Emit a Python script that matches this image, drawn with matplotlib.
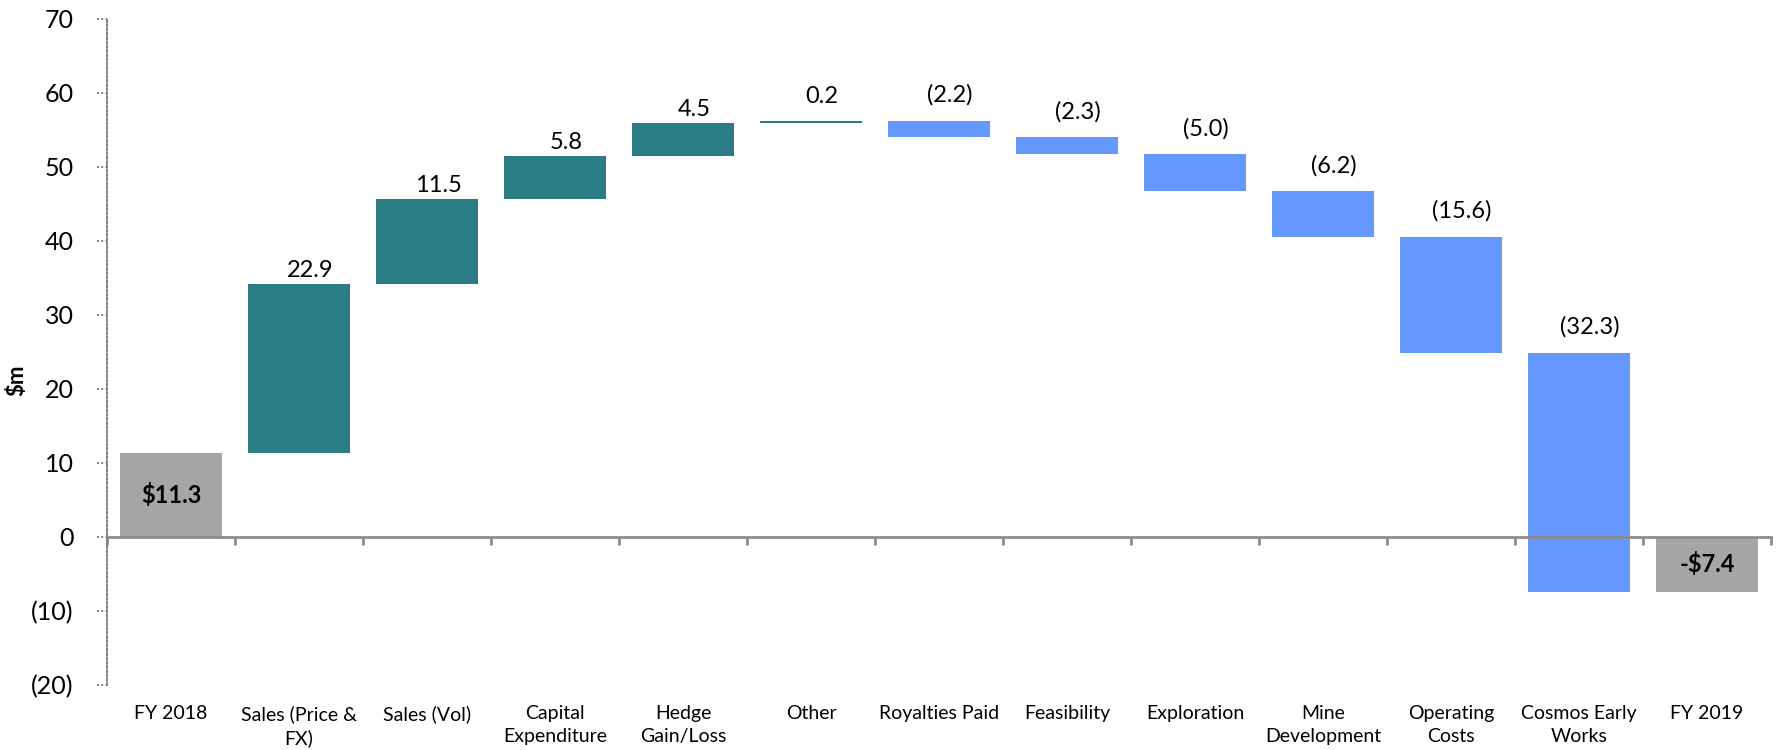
import matplotlib
matplotlib.use("Agg")
import matplotlib.pyplot as plt
import matplotlib.transforms as mtransforms
import numpy as np

plt.rcParams['font.family'] = ['Lato', 'DejaVu Sans']

categories = ["FY 2018", "Sales (Price &\nFX)", "Sales (Vol)", "Capital\nExpenditure",
              "Hedge\nGain/Loss", "Other", "Royalties Paid", "Feasibility", "Exploration",
              "Mine\nDevelopment", "Operating\nCosts", "Cosmos Early\nWorks", "FY 2019"]
start_value = 11.3
changes = [22.9, 11.5, 5.8, 4.5, 0.2, -2.2, -2.3, -5.0, -6.2, -15.6, -32.3]
end_value = -7.4
yticks = [-20, -10, 0, 10, 20, 30, 40, 50, 60, 70]

TEAL = "#2B7C85"
BLUE = "#6699FF"
GRAY = "#A6A6A6"

fig = plt.figure(figsize=(17.77, 7.5), dpi=100)
ax = fig.add_axes([107/1777, 1-685/750, (1771-107)/1777, (685-19)/750])

x = np.arange(len(categories))
# waterfall bottoms/heights
bottoms = [0]
heights = [start_value]
colors = [GRAY]
running = start_value
for c in changes:
    if c >= 0:
        bottoms.append(running)
        heights.append(c)
        colors.append(TEAL)
    else:
        bottoms.append(running + c)
        heights.append(-c)
        colors.append(BLUE)
    running += c
bottoms.append(min(0, end_value))
heights.append(abs(end_value))
colors.append(GRAY)

ax.bar(x, heights, bottom=bottoms, width=0.8, color=colors, zorder=2)

# labels
for i, c in enumerate(changes, start=1):
    top = bottoms[i] + heights[i]
    if c >= 0:
        txt = f"{c:.1f}"
        dy = 2 if c > 1 else 10
    else:
        txt = f"({-c:.1f})"
        dy = 11
    ax.annotate(txt, (x[i], top), xytext=(8, dy), textcoords="offset points",
                ha="center", va="bottom", fontsize=17, color="black")

ax.text(x[0], start_value/2, f"${start_value:.1f}", ha="center", va="center",
        fontsize=17, fontweight="bold")
ax.text(x[-1], end_value/2, f"-${abs(end_value):.1f}", ha="center", va="center",
        fontsize=17, fontweight="bold")

ax.set_xlim(-0.5, len(categories)-0.5)
ax.set_ylim(-20, 70)

# spines
for s in ["top", "right"]:
    ax.spines[s].set_visible(False)
ax.spines["left"].set_linestyle((0, (1, 1.2)))
ax.spines["left"].set_color("#7F7F7F")
ax.spines["left"].set_linewidth(1.4)
ax.spines["bottom"].set_position(("data", 0))
ax.spines["bottom"].set_color("#8C8C8C")
ax.spines["bottom"].set_linewidth(2)
ax.spines["bottom"].set_zorder(3)

# x ticks at boundaries, no labels
ax.set_xticks(np.arange(-0.5, len(categories), 1.0))
ax.set_xticklabels([])
ax.tick_params(axis="x", direction="out", length=6, width=2, color="#8C8C8C")

# category labels below axes
trans = mtransforms.blended_transform_factory(ax.transData, ax.transAxes)
for xi, lab in zip(x, categories):
    ax.text(xi, -0.03, lab, transform=trans, ha="center", va="top",
            fontsize=14, linespacing=1.4)

# y ticks
ax.set_yticks(yticks)
ax.set_yticklabels([f"({-v})" if v < 0 else f"{v}" for v in yticks])
ax.tick_params(axis="y", length=0, pad=24, labelsize=18)
ytrans = mtransforms.blended_transform_factory(ax.transAxes, ax.transData)
for v in yticks:
    ax.plot([-0.006, 0], [v, v], transform=ytrans, color="#7F7F7F", lw=1.4,
            linestyle=(0, (1, 1.2)), clip_on=False)

fig.text(17/1777, 1-380/750, "$m", rotation=90, ha="center", va="center",
         fontsize=16, fontweight="bold")

fig.savefig("out.png", dpi=100)
